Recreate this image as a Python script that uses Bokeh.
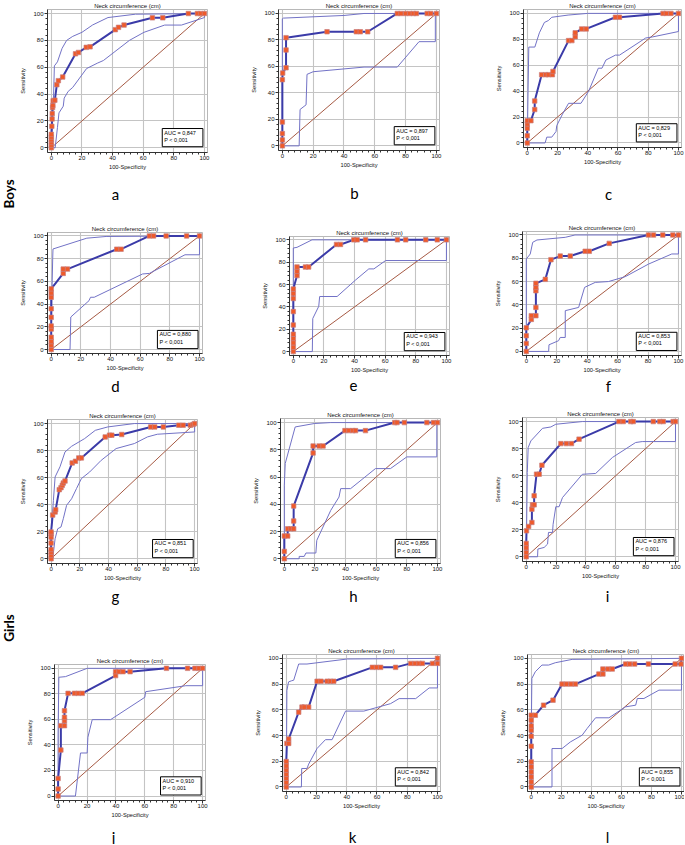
from bokeh.plotting import figure
from bokeh.layouts import row, column
from bokeh.models import Range1d, Label, SingleIntervalTicker
from bokeh.core.properties import value
from bokeh.embed import file_html
from bokeh.resources import INLINE
import math

# ---------------- data ----------------
LETTERS = ["a", "b", "c", "d", "e", "f", "g", "h", "i", "j", "k", "l"]
AUC = ["0,847", "0,897", "0,829", "0,880", "0,943", "0,853",
       "0,851", "0,856", "0,876", "0,910", "0,842", "0,855"]
P_TEXT = "P < 0,001"
TITLE = "Neck circumference (cm)"
X_LABEL = "100-Specificity"
Y_LABEL = "Sensitivity"
GROUPS = ["Boys", "Girls"]
DIAG = [0, 100]

A_X = [0,0,0,0,0,0,0.3,0.5,0.6,0.8,1.0,1.2,2.3,3.6,4.6,7.4,15.8,17.7,22.8,25.3,41.8,43.9,47.5,66.0,72.8,89.5,95.4,97.5,100]
A_Y = [0,2,4,6,8,10,16,21.5,25.5,30,31.5,35,35.5,47,50,52.7,70,71,74.8,75.2,88,89.7,91.4,96.8,96.8,100,100,100,100]
A_UX = [0,0.5,1.5,2,4,7,10,14,20,27,37,55,100]
A_UY = [0,10,40,61,64,74,80,83,86,91.5,97,99.5,100]
A_LX = [0,2.5,4,5,7.8,8.4,11,14,23,30,34,51,60.5,74,85,100,100]
A_LY = [0,0,15,26,31,37,42,45,59,63,65,80,86,91.4,91.4,97,100]

B_X = [0,0,0,0,0,0.2,2.4,2.4,2.4,29,48,50.6,55.4,74.6,77,80,82.6,85,87,94,96.3,100]
B_Y = [0,4.5,9.3,18,50,55,59,72.4,81.7,86.2,86.2,86.2,86.2,100,100,100,100,100,100,100,100,100]
B_UX = [0,0,0.7,40,53,100]
B_UY = [0,96,96.5,98.5,100,100]
B_LX = [0,10.9,11.5,15.4,16,20,53,74.6,88.7,99.3,99.3]
B_LY = [0,0,27.5,31,54,56,59.5,59.5,78.7,78.7,100]

C_X = [0,0,0,0,0,2.4,4.9,4.9,9.5,12.2,14,16.6,17,27.3,29.5,31.7,31.7,36,39,58.3,61,89.8,92,95,100]
C_Y = [0,5.6,11.4,14.7,17.2,17.2,25.8,32.4,52.7,52.7,52.7,52.7,55.2,79,79,82,85,88,88,97,97,100,100,100,100]
C_UX = [0,0.5,1,5,8,11.3,14,16.2,27,40,100]
C_UY = [0,40,74,74,85,93,94.5,97,98.7,100,100]
C_LX = [0,11.8,12.9,16.2,19,19.5,23.3,27.3,35.5,40.6,47,49.4,52,58.3,61,78.3,82.7,100,100]
C_LY = [0,0,4.5,4.5,8.8,13.4,22.3,30.6,30.6,40,57.7,57.7,64,67.8,67.8,81,81.8,86,100]

D_X = [0,0,0,0,0,0,0,0,0,0,0,8.1,8.1,11,44.2,47.1,66.2,69,77.5,91.3,100]
D_Y = [0,3.8,7,10.8,18,20.7,28.3,35.9,46,49.9,53.4,67,70.8,70.8,88.3,88.3,100,100,100,100,100]
D_UX = [0,0.5,1,1.2,24,37,100]
D_UY = [0,50,80,88.5,98,99.5,100]
D_LX = [0,12.7,13.2,25.5,26.5,29,61.6,66.2,90.2,100,100]
D_LY = [0,0,28.6,43,46,46,66.5,67,83.4,83.4,100]

E_X = [0,0,0,0,0,0,0,0,0,0,2.4,2.4,2.4,7.9,10,28.2,30.8,39.5,41.7,47.2,68,73.4,86.5,94,100]
E_Y = [0,3.8,7.9,11.7,15.5,23.8,35.8,47.5,51.9,56,68,71.8,75.7,75.7,75.7,95.9,95.9,100,100,100,100,100,100,100,100]
E_UX = [0,0,2.4,12.2,100]
E_UY = [0,92.7,93.3,100,100]
E_LX = [0,12.4,12.7,16.6,17.2,28.6,40.6,49.3,52.6,60.3,100,100]
E_LY = [0,0,29.6,40.5,49.3,49.3,64,74,74,81.5,81.5,100]

F_X = [0,0,0,0,3.3,3.3,6.3,6.3,6.3,6.3,6.3,12.5,16.2,22.3,28.9,38.7,41.4,54.5,80.3,83.6,89.7,96.3,100]
F_Y = [0,6.9,13.5,20.3,27.5,30.7,30.7,37.8,52.1,55,58.5,61.9,78.8,81.9,81.9,86,86,92.8,100,100,100,100,100]
F_UX = [0,0,2.6,4.2,7,25.6,32,100]
F_UY = [0,79.4,83.7,93.7,95.7,98,100,100]
F_LX = [0,14.7,14.9,21.2,22.3,25.6,25.6,34.4,38.3,45.3,54,65,80.3,95.6,100,100]
F_LY = [0,0,5.7,9.2,12,12,35,37.8,55,59.3,60,64.2,75,83.7,83.7,100]

G_X = [0,0,0,0,0,0,0,0,1.1,2.8,3.2,5.7,6.9,7.8,8.5,9.7,14.7,17,19.3,21.1,37.7,40.7,42.3,49.2,69.4,72.2,78.2,89,92,97,98.9,100]
G_Y = [0,2.5,4.9,6.9,11.6,16,18.5,19.8,32.3,34.6,36.3,51.1,52.6,54.3,56,57.5,70.9,72.1,74.6,74.6,90.1,91.4,91.4,91.9,97.5,97.5,97.5,98.8,98.8,98.8,99.3,100]
G_UX = [0,0,1.6,2.8,6.2,9.7,14.3,23.4,30.8,39.5,58,100]
G_UY = [0,18.5,43,60.5,68,79,83.2,88.9,95,97.5,100,100]
G_LX = [0,1.1,2.8,4.6,6.9,8.5,10.8,14.3,17.7,21.1,26.9,34.9,45.3,58,67.1,74,100,100]
G_LY = [0,0,14.8,22.2,23.5,29.6,39.5,44.4,51.9,59.3,64.2,72.8,81.5,85.2,90.1,92.1,93.8,100]

H_X = [0,0,0,2.2,2.2,4.3,6.1,6.1,6.1,18.8,18.8,22.7,25.3,39.6,42.2,44.8,46.5,53,72.1,73.6,78.4,93.1,97.4,100]
H_Y = [0,5.4,16.7,16.7,22,22,22,27.7,38.7,77.7,82.8,82.8,82.8,94.1,94.1,94.1,94.1,94.1,100,100,100,100,100,100]
H_UX = [0,0,0.6,7.1,19.5,30.3,100]
H_UY = [0,54,70,96.8,99.3,100,100]
H_LX = [0,9.7,9.7,13,14.1,20.6,21.2,30.3,35.7,36.8,43.3,59.5,69.3,80,99.6,99.6]
H_LY = [0,0,1.7,1.7,4.2,4.2,13.5,35.5,45.3,51.5,51.5,66.2,66.2,74.8,74.8,100]

I_X = [0,0,0,0,0.2,1.6,3.8,3.8,4.2,5.3,5.3,6.9,8.7,10.5,23.2,26.9,30.3,35.4,62.1,65,70,71.7,85.1,89.5,91.8,98.4,100]
I_Y = [0,3.2,6.7,9.9,19.2,22.4,25.4,35.2,38.4,38.4,45.1,61.1,61.1,67.7,83.7,83.7,83.7,87,100,100,100,100,100,100,100,100,100]
I_UX = [0,0.7,1.3,3.1,10.9,16.5,19.8,37.6,100]
I_UY = [0,62.3,80.8,85.7,95,96,98,100,100]
I_LX = [0,7.6,7.8,12,14.3,14.9,17.6,18,19.8,22,24.3,37.6,46.5,57.7,73.3,77.7,100,100]
I_LY = [0,0,5.7,6.9,9.4,18,18,24,37,37,43.8,61,61.6,73.4,84.5,85.2,85.2,100]

J_X = [0,0,0,1.9,1.9,4.4,4.4,4.4,4.4,6.9,11.3,13.9,16.7,39.8,39.8,42.1,44.9,49.8,75,89.6,94.7,97.5,100]
J_Y = [0,5.5,13.8,36,55.1,55.1,59,61.6,66.8,80.4,80.4,80.4,80.4,94.3,97.4,97.4,97.4,97.4,100,100,100,100,100]
J_UX = [0,0,0.5,5.1,20.1,100]
J_UY = [0,48.6,93,93.5,100,100]
J_LX = [0,12,15.5,20.1,20.6,23.6,36.3,60,60.6,88.4,100,100]
J_LY = [0,0,33.7,33.7,46,59.8,59.8,77.3,81.7,86.4,86.4,100]

K_X = [0,0,0,0,0,0,0,0.4,1.6,1.6,8.2,10.4,11.9,14.8,20.4,23,27,29.2,31.4,56.9,59.7,62.4,72.3,82.3,85.2,87.8,90,96.7,100,100]
K_Y = [0,3.4,6.8,9.9,13.1,16.4,19.8,33.9,33.9,37.3,58.2,62.1,62.1,62.1,82.2,82.2,82.2,82.2,82.2,93,93,93,93,96.1,96.1,96.1,96.1,96.1,96.1,100]
K_UX = [0,0.4,1.5,3.3,4.9,8.2,13.7,40.3,100]
K_UY = [0,75,81.7,82.5,83,95.6,95.6,99.5,100]
K_LX = [0,10,10.2,13.7,14.8,20.4,25.9,30.3,39.2,51.3,69,74.6,85.6,94.5,100,100]
K_LY = [0,0,14.4,14.4,17.8,30,36.8,36.8,59,59,64.8,68.7,68.7,77,77,100]

L_X = [0,0,0,0,0,0,0,0,0,0,0,0,2.7,8.2,14.5,20.5,23.4,26.5,29.4,45,47.7,47.7,51,53.9,62.8,65.5,68.8,78,95.8,99.6,100]
L_Y = [0,3.9,7.8,11.7,15.6,19.5,31.7,39.5,44.2,47.5,51.9,55.8,55.8,63.6,67.5,80,80,80,80,87.8,87.8,91.7,91.7,91.7,95.6,95.6,95.6,95.6,95.6,95.6,100]
L_UX = [0,0,0.4,2.7,7.1,11.6,16,27.2,100]
L_UY = [0,41.5,84.4,89.6,94.8,94.8,96.6,99.2,100]
L_LX = [0,13.8,13.8,20.5,26,33.9,37.2,42.8,51.7,62.8,69.5,70.6,75,85,98.4,100,100]
L_LY = [0,0,29.9,29.9,35,40.3,45.5,53.8,53.8,62.3,63.6,68.8,68.8,75.3,75.3,75.3,100]

CURVES = [
    (A_X, A_Y, A_UX, A_UY, A_LX, A_LY), (B_X, B_Y, B_UX, B_UY, B_LX, B_LY),
    (C_X, C_Y, C_UX, C_UY, C_LX, C_LY), (D_X, D_Y, D_UX, D_UY, D_LX, D_LY),
    (E_X, E_Y, E_UX, E_UY, E_LX, E_LY), (F_X, F_Y, F_UX, F_UY, F_LX, F_LY),
    (G_X, G_Y, G_UX, G_UY, G_LX, G_LY), (H_X, H_Y, H_UX, H_UY, H_LX, H_LY),
    (I_X, I_Y, I_UX, I_UY, I_LX, I_LY), (J_X, J_Y, J_UX, J_UY, J_LX, J_LY),
    (K_X, K_Y, K_UX, K_UY, K_LX, K_LY), (L_X, L_Y, L_UX, L_UY, L_LX, L_LY),
]

# ---------------- layout (page pixels, measured on the reference) ----------------
STRIP_W = 17
TOTAL_H = 844
COLS = [STRIP_W, 230, 455, 684]
PANEL_ROWS = [(0, 181), (205, 375), (396, 583), (606, 823)]
LETTER_ROWS = [(181, 205), (375, 396), (583, 606), (823, 844)]
FRAMES = [  # left, right, top, bottom of each plot frame
    (42.0, 207.2, 6.9, 151.8), (278.5, 438.8, 8.0, 149.7), (523.5, 680.7, 7.0, 147.3),
    (37.8, 201.8, 231.6, 353.3), (289.2, 448.7, 235.6, 356.7), (522.2, 681.4, 230.8, 354.8),
    (45.7, 197.2, 419.3, 563.0), (279.5, 440.4, 418.2, 563.0), (521.6, 678.0, 416.6, 560.7),
    (54.1, 204.6, 663.9, 799.8), (282.2, 439.7, 654.5, 790.5), (527.3, 683.7, 654.5, 791.2),
]
LETTER_XY = [(115, 193), (354, 192), (608, 193), (115, 385), (353, 385), (608, 385),
             (115, 595), (353, 595), (607, 595), (113, 836), (352, 836), (607, 836)]
GROUP_Y = [193.5, 627.5]

MAIN_COL = "#3b3ba8"
CI_COL = "#7272c6"
DIAG_COL = "#a65a44"
GRID_COL = "#c4c4c4"
AX_COL = "#333333"
FONT = "Liberation Sans"


def make_panel(k):
    ri, ci = divmod(k, 3)
    L, R, T, B = FRAMES[k]
    top, bot = PANEL_ROWS[ri]
    w = COLS[ci + 1] - COLS[ci]
    h = bot - top
    p = figure(width=w, height=h, output_backend="svg", toolbar_location=None,
               x_range=Range1d(-2.5, 102), y_range=Range1d(-3.5, 103),
               min_border_left=max(0, round(L - COLS[ci])),
               min_border_right=max(0, round(COLS[ci + 1] - R)),
               min_border_top=max(0, round(T - top)),
               min_border_bottom=max(0, round(bot - B)),
               title=TITLE)
    p.title.align = "center"
    p.title.text_font = FONT
    p.title.text_font_size = "6px"
    p.title.text_font_style = "normal"
    p.title.text_color = "#111111"
    p.title.standoff = 1
    p.background_fill_color = "white"
    p.border_fill_color = "white"
    p.outline_line_color = "#b8b8b8"

    t = SingleIntervalTicker(interval=20, num_minor_ticks=5)
    for ax in (p.xaxis[0], p.yaxis[0]):
        ax.ticker = t
        ax.major_label_text_font = FONT
        ax.major_label_text_font_size = "6px"
        ax.major_label_text_color = "#111111"
        ax.axis_label_text_font = FONT
        ax.axis_label_text_font_size = "5.7px"
        ax.axis_label_text_font_style = "normal"
        ax.axis_label_text_color = "#111111"
        ax.axis_line_color = AX_COL
        ax.major_tick_line_color = AX_COL
        ax.minor_tick_line_color = AX_COL
        ax.major_tick_out = 3
        ax.major_tick_in = 0
        ax.minor_tick_out = 2
        ax.minor_tick_in = 0
    p.xaxis[0].axis_label = X_LABEL
    p.xaxis[0].axis_label_standoff = 1
    p.xaxis[0].major_label_standoff = 0
    p.yaxis[0].axis_label = Y_LABEL
    p.yaxis[0].axis_label_standoff = 4
    p.yaxis[0].major_label_standoff = 1
    for g in (p.xgrid[0], p.ygrid[0]):
        g.ticker = t
        g.grid_line_color = GRID_COL
        g.grid_line_width = 1.1

    x, y, ux, uy, lx, ly = CURVES[k]
    p.line(DIAG, DIAG, line_color=DIAG_COL, line_width=1)
    p.line(ux, uy, line_color=CI_COL, line_width=1)
    p.line(lx, ly, line_color=CI_COL, line_width=1)
    p.line(x, y, line_color=MAIN_COL, line_width=2)
    p.scatter(x, y, marker="square", size=4.5, fill_color="#ef5a2a",
              line_color="#c98080", line_width=0.7)

    p.add_layout(Label(x=99, y=0.8, text="AUC = %s\n%s" % (AUC[k], P_TEXT),
                       anchor="bottom_right", text_font=FONT, text_font_size="5.5px",
                       text_color="black", background_fill_color="white",
                       border_line_color="black", border_line_width=1,
                       padding=(2, 7, 1, 4)))
    return p


def blank(w, h, xr, yr):
    f = figure(width=w, height=h, output_backend="svg", toolbar_location=None,
               x_range=Range1d(*xr), y_range=Range1d(*yr),
               min_border=0, outline_line_color=None)
    f.axis.visible = False
    f.grid.visible = False
    f.background_fill_color = "white"
    f.border_fill_color = "white"
    return f


def letter_strip(r):
    top, bot = LETTER_ROWS[r]
    f = blank(COLS[-1] - COLS[0], bot - top, (COLS[0], COLS[-1]), (bot, top))
    idx = range(r * 3, r * 3 + 3)
    f.text(x=[LETTER_XY[i][0] for i in idx], y=[LETTER_XY[i][1] for i in idx],
           text=[LETTERS[i] for i in idx], text_align="center", text_baseline="middle",
           text_font=value("Lato"), text_font_size="15px", text_color="black")
    return f


panels = [make_panel(k) for k in range(12)]
items = []
for r in range(4):
    # each panel wrapped on its own so that the frames in a row are not forced to line up
    items.append(row(*[column(pp, spacing=0) for pp in panels[r * 3:(r + 1) * 3]], spacing=0))
    items.append(letter_strip(r))
grid = column(*items, spacing=0)

# left strip with the rotated group names
strip = blank(STRIP_W, TOTAL_H, (0, STRIP_W), (TOTAL_H, 0))
strip.text(x=[STRIP_W / 2] * 2, y=GROUP_Y, text=GROUPS,
           angle=math.pi / 2, text_align="center", text_baseline="middle",
           text_font=value("Lato"), text_font_style="bold", text_font_size="13.5px",
           text_color="black")

layout = row(strip, grid, spacing=0)

open("out.html", "w").write(file_html(layout, INLINE))
